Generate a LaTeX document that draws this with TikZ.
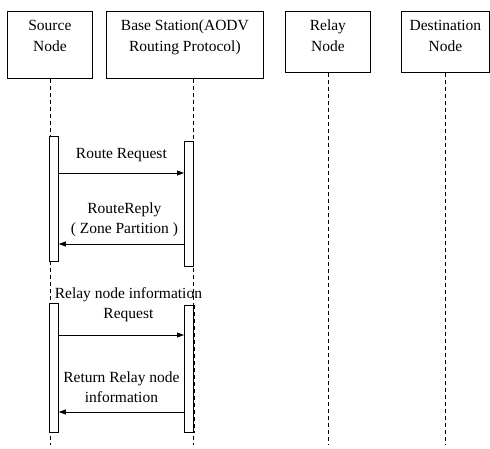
\documentclass[tikz,border=0pt]{standalone}
\usepackage{fontspec}
\setmainfont{Liberation Serif}
\usetikzlibrary{arrows.meta,positioning}
\tikzset{
  hdblk/.style={draw,rectangle,line width=0.8pt,anchor=north west,inner sep=0pt},
  hdtxt/.style={anchor=north,align=center,inner sep=0pt,yshift=-9pt,font=\fontsize{15.5}{21}\selectfont},
  actbar/.style={draw,rectangle,fill=white,line width=0.8pt,minimum width=9pt,inner sep=0pt,anchor=north west},
  life/.style={dash pattern=on 4pt off 3pt,line width=0.6pt},
  msg/.style={-{Triangle[length=7pt,width=5pt]},line width=0.8pt},
  lbl/.style={align=center,inner sep=0pt,font=\fontsize{15.5}{20}\selectfont}
}

\begin{document}
\begin{tikzpicture}[x=1pt,y=-1pt]
  \useasboundingbox (0,0) rectangle (490,449);
  % heads
  \node[hdblk,minimum width=85pt,minimum height=67pt,label={[hdtxt]north:Source\\Node}] (src) at (7,11) {};
  \node[hdblk,minimum width=157pt,minimum height=67pt,label={[hdtxt]north:Base Station(AODV\\Routing Protocol)}] (bs) at (106,11) {};
  \node[hdblk,minimum width=85pt,minimum height=61pt,label={[hdtxt]north:Relay\\Node}] (rly) at (285,11) {};
  \node[hdblk,minimum width=88pt,minimum height=61pt,label={[hdtxt]north:Destination\\Node}] (dst) at (401,11) {};
  \coordinate (bsl) at ([xshift=8.5pt]bs.south);
  \coordinate (bot) at (0,445);

  % lifelines
  \draw[life] (src.south) -- (src.south |- bot);
  \draw[life] (bsl) -- (bsl |- bot);
  \draw[life] (rly.south) -- (rly.south |- bot);
  \draw[life] (dst.south) -- (dst.south |- bot);

  % activation bars
  \node[actbar,minimum height=125pt] (sb1) at (49,136) {};
  \node[actbar,minimum height=125pt] (bb1) at (184,141) {};
  \node[actbar,minimum height=129pt] (sb2) at (49,303) {};
  \node[actbar,minimum height=127pt] (bb2) at (184,305) {};
  \draw[life] (bb2.north east) -- (bb2.south east);

  % messages
  \draw[msg] (sb1.east |- 0,173) -- node[lbl,above=11pt] {Route Request} (bb1.west |- 0,173);
  \draw[msg] (bb1.west |- 0,244) -- node[lbl,above=7pt,xshift=3pt] {RouteReply\\( Zone Partition )} (sb1.east |- 0,244);
  \draw[msg] (sb2.east |- 0,335) -- node[lbl,above=13pt,xshift=7pt] {Relay node information\\Request} (bb2.west |- 0,335);
  \draw[msg] (bb2.west |- 0,412) -- node[lbl,above=9pt] {Return Relay node\\information} (sb2.east |- 0,412);
\end{tikzpicture}
\end{document}
